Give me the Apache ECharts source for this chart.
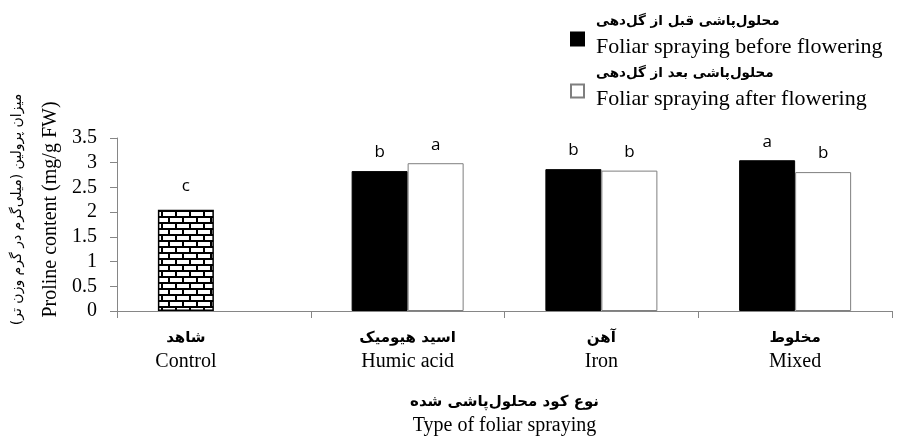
<!DOCTYPE html>
<html>
<head>
<meta charset="utf-8">
<script src="https://cdn.jsdelivr.net/npm/echarts@6/dist/echarts.min.js"></script>
<style>
  html, body { margin: 0; padding: 0; background: #fff; }
  #chart { width: 903px; height: 437px; }
</style>
</head>
<body>
<div id="chart"></div>
<script>
const categoriesFa = ['شاهد', 'اسید هیومیک', 'آهن', 'مخلوط'];
const categoriesEn = ['Control', 'Humic acid', 'Iron', 'Mixed'];
const beforeValues = [2.05, 2.83, 2.87, 3.05];
const afterValues = [null, 2.99, 2.84, 2.81];
const beforeLetters = ['c', 'b', 'b', 'a'];
const afterLetters = ['', 'a', 'b', 'b'];
const yTicks = [0, 0.5, 1, 1.5, 2, 2.5, 3, 3.5];

const seriesNames = ['محلول‌پاشی قبل از گل‌دهی\nFoliar spraying before flowering',
  'محلول‌پاشی بعد از گل‌دهی\nFoliar spraying after flowering'];

const serif = "'Liberation Serif', 'Times New Roman', serif";
const faFont = "'DejaVu Sans', sans-serif";

// brick pattern for the control bar
function brickPattern() {
  const c = document.createElement('canvas');
  c.width = 14; c.height = 12;
  const ctx = c.getContext('2d');
  ctx.fillStyle = '#fff';
  ctx.fillRect(0, 0, 14, 12);
  ctx.fillStyle = '#000';
  ctx.fillRect(0, 0, 14, 2);
  ctx.fillRect(0, 6, 14, 2);
  ctx.fillRect(0, 0, 2, 6);
  ctx.fillRect(7, 6, 2, 6);
  return c;
}

const chart = echarts.init(document.getElementById('chart'));

const beforeData = beforeValues.map((v, i) => {
  if (i === 0) {
    return {
      value: v,
      itemStyle: { color: { image: brickPattern(), repeat: 'repeat' }, borderColor: '#000', borderWidth: 1.5 },
      label: { distance: 15 }
    };
  }
  return v;
});

// one legend per entry so each can be placed on its own
function legendFor(name, top) {
  return {
    data: [name],
    orient: 'vertical',
    left: 570,
    top: top,
    padding: 0,
    itemWidth: 13,
    itemHeight: 13,
    icon: 'rect',
    formatter: n => {
      const parts = n.split('\n');
      return '{fa|' + parts[0] + '}\n{en|' + parts[1] + '}';
    },
    textStyle: {
      rich: {
        fa: { fontFamily: faFont, fontSize: 13.5, fontWeight: 'bold', lineHeight: 16, color: '#000', padding: [0, 0, 0, 7] },
        en: { fontFamily: serif, fontSize: 22, lineHeight: 36, color: '#000', padding: [0, 0, 0, 7] }
      }
    }
  };
}

const option = {
  animation: false,
  backgroundColor: '#fff',
  grid: { left: 117, right: 11, top: 138, bottom: 124 },
  legend: [legendFor(seriesNames[0], 14), legendFor(seriesNames[1], 66)],
  xAxis: {
    type: 'category',
    data: categoriesEn,
    axisLine: { lineStyle: { color: '#868686', width: 1 } },
    axisTick: { show: true, length: 7, lineStyle: { color: '#868686' } },
    axisLabel: {
      margin: 15,
      interval: 0,
      formatter: (val, i) => i === 0
        ? '{fa0|' + categoriesFa[i] + '}\n{en0|' + val + '}'
        : '{fa|' + categoriesFa[i] + '}\n{en|' + val + '}',
      rich: {
        fa: { fontFamily: faFont, fontSize: 15, fontWeight: 'bold', lineHeight: 24, color: '#000' },
        en: { fontFamily: serif, fontSize: 20, lineHeight: 24, color: '#000' },
        fa0: { fontFamily: faFont, fontSize: 15, fontWeight: 'bold', lineHeight: 24, color: '#000', padding: [0, 56, 0, 0] },
        en0: { fontFamily: serif, fontSize: 20, lineHeight: 24, color: '#000', padding: [0, 56, 0, 0] }
      }
    },
    name: '{fa|نوع کود محلول‌پاشی شده}\n{en|Type of foliar spraying}',
    nameLocation: 'middle',
    nameGap: 79,
    nameTextStyle: {
      rich: {
        fa: { fontFamily: faFont, fontSize: 15, fontWeight: 'bold', lineHeight: 24, color: '#000' },
        en: { fontFamily: serif, fontSize: 20, lineHeight: 24, color: '#000' }
      }
    }
  },
  yAxis: {
    type: 'value',
    min: 0,
    max: 3.5,
    interval: 0.5,
    splitLine: { show: false },
    axisLine: { show: true, lineStyle: { color: '#868686', width: 1 } },
    axisTick: { show: true, length: 7, lineStyle: { color: '#868686' } },
    axisLabel: {
      margin: 20,
      fontFamily: serif,
      fontSize: 20,
      color: '#000',
      formatter: v => yTicks.includes(v) ? String(v) : ''
    },
    name: '{fa|میزان پرولین (میلی‌گرم در گرم وزن تر)}\n{en|Proline content (mg/g FW)}',
    nameLocation: 'middle',
    nameRotate: 90,
    nameGap: 50,
    nameTextStyle: {
      padding: [0, 0, 0, 30],
      rich: {
        fa: { fontFamily: faFont, fontSize: 14, lineHeight: 33, color: '#000' },
        en: { fontFamily: serif, fontSize: 20, lineHeight: 33, color: '#000' }
      }
    }
  },
  series: [
    {
      name: seriesNames[0],
      type: 'bar',
      barWidth: 56,
      barGap: '0%',
      data: beforeData,
      itemStyle: { color: '#000', borderColor: '#000', borderWidth: 1 },
      label: {
        show: true,
        position: 'top',
        distance: 10,
        fontFamily: "'Open Sans', sans-serif",
        fontSize: 17,
        color: '#000',
        formatter: p => beforeLetters[p.dataIndex]
      }
    },
    {
      name: seriesNames[1],
      type: 'bar',
      barWidth: 56,
      barGap: '0%',
      data: afterValues.map(v => v === null ? '-' : v),
      itemStyle: { color: '#fff', borderColor: '#7f7f7f', borderWidth: 1 },
      label: {
        show: true,
        position: 'top',
        distance: 10,
        fontFamily: "'Open Sans', sans-serif",
        fontSize: 17,
        color: '#000',
        formatter: p => afterLetters[p.dataIndex]
      }
    }
  ]
};

chart.setOption(option);
</script>
</body>
</html>
